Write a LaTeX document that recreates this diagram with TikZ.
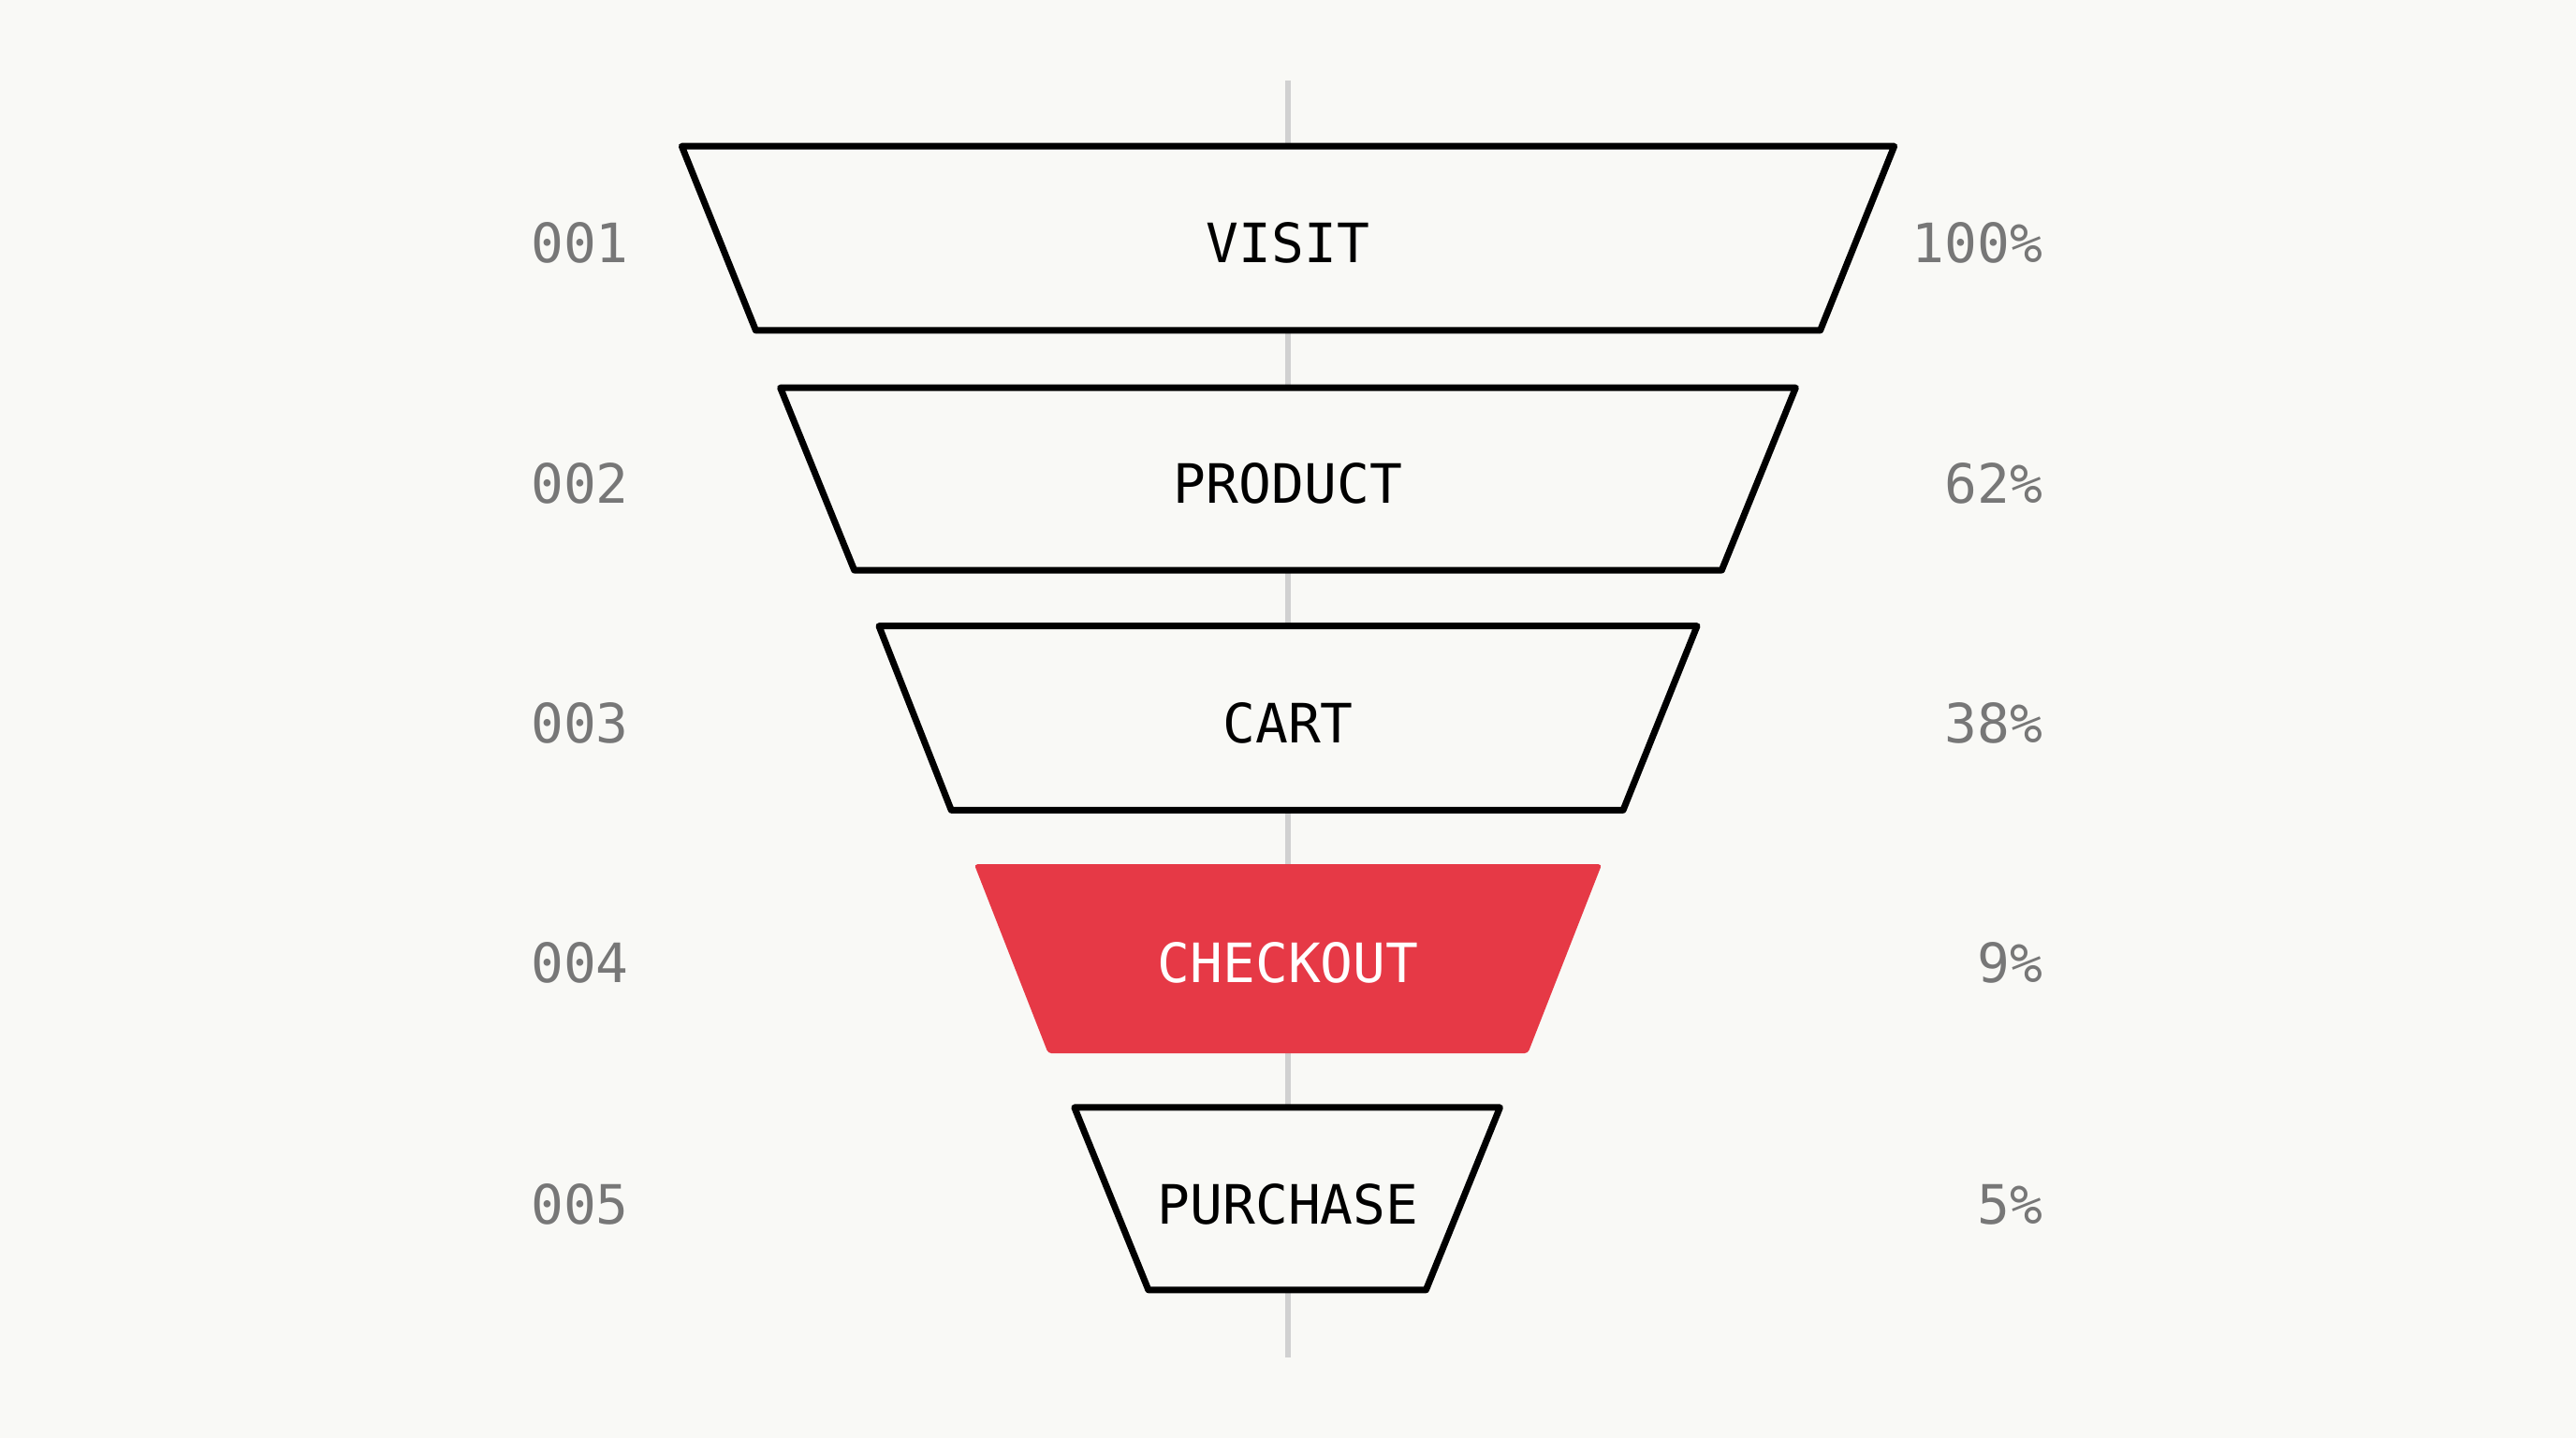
\documentclass[tikz,border=0pt]{standalone}
\usepackage{fontspec}
\setmonofont{DejaVu Sans Mono}
\definecolor{bg}{HTML}{F9F9F6}
\definecolor{hot}{HTML}{E63946}
\definecolor{lab}{HTML}{777777}
\begin{document}
\begin{tikzpicture}[x=1pt,y=-1pt,
  stage/.style={draw=black,line width=4pt,line join=round,fill=bg},
  txt/.style={font=\ttfamily\fontsize{33}{33}\selectfont},
  num/.style={font=\ttfamily\fontsize{33}{33}\selectfont,text=lab}]
\fill[bg] (0,0) rectangle (1568,875);
\useasboundingbox (0,0) rectangle (1568,875);
\draw[line width=3pt,color=black!18] (784,49) -- (784,826);
\draw[stage] (415,89) -- (1153,89) -- (1108,201) -- (460,201) -- cycle;
\draw[stage] (475,236) -- (1093,236) -- (1048,347) -- (520,347) -- cycle;
\draw[stage] (535,381) -- (1033,381) -- (988,493) -- (579,493) -- cycle;
\fill[hot,rounded corners=2pt] (593,526) -- (975,526) -- (930,641) -- (638,641) -- cycle;
\draw[stage] (654,674) -- (913,674) -- (868,785) -- (699,785) -- cycle;
\node[txt] (s1) at (784,148) {VISIT};
\node[txt] (s2) at (784,294) {PRODUCT};
\node[txt] (s3) at (784,440) {CART};
\node[txt,text=white] (s4) at (784,586) {CHECKOUT};
\node[txt] (s5) at (784,733) {PURCHASE};
\foreach \i/\y/\p in {1/148/100\%,2/294/62\%,3/440/38\%,4/586/9\%,5/733/5\%}{
  \node[num] (l\i) at (353,\y) {00\i};
  \node[num,anchor=east] (r\i) at (1247,\y) {\p};
}
\end{tikzpicture}
\end{document}
